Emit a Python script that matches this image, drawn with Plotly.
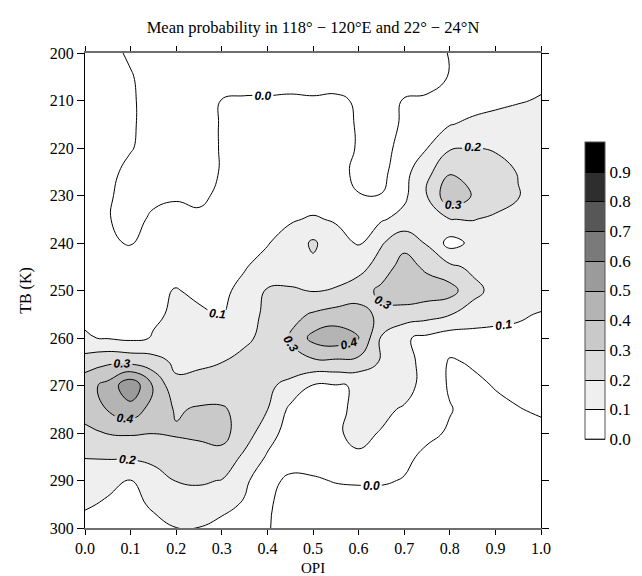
import plotly.graph_objects as go

# OPI (x) grid and TB (y) grid
OPI = [0.0, 0.05, 0.1, 0.15, 0.2, 0.25, 0.3, 0.35, 0.4, 0.45, 0.5,
       0.55, 0.6, 0.65, 0.7, 0.75, 0.8, 0.85, 0.9, 0.95, 1.0]
TB = [200, 205, 210, 215, 220, 225, 230, 235, 240, 245, 250,
      255, 260, 265, 270, 275, 280, 285, 290, 295, 300]

# mean probability, one row per TB value
P200 = [0.04, 0.02, -0.01, -0.03, -0.04, -0.04, -0.04, -0.04, -0.04, -0.04, -0.04, -0.04, -0.04, -0.04, -0.04, -0.04, 0.005, 0.03, 0.05, 0.06, 0.07]
P205 = [0.05, 0.04, 0.005, -0.03, -0.04, -0.04, -0.04, -0.04, -0.04, -0.04, -0.04, -0.04, -0.04, -0.04, -0.04, -0.04, 0.005, 0.04, 0.06, 0.075, 0.085]
P210 = [0.06, 0.05, 0.01, -0.03, -0.04, -0.03, 0.002, 0.01, 0.01, 0.015, 0.01, 0.015, -0.01, -0.03, 0.005, 0.015, 0.03, 0.06, 0.08, 0.095, 0.105]
P215 = [0.07, 0.05, 0.01, -0.03, -0.04, -0.03, 0.005, 0.02, 0.025, 0.03, 0.03, 0.02, -0.005, -0.03, 0.01, 0.06, 0.095, 0.12, 0.13, 0.13, 0.13]
P220 = [0.07, 0.06, 0.005, -0.03, -0.04, -0.03, 0.005, 0.025, 0.035, 0.04, 0.04, 0.025, -0.005, -0.03, 0.03, 0.098, 0.19, 0.205, 0.19, 0.15, 0.14]
P225 = [0.07, 0.02, -0.02, -0.04, -0.045, -0.03, 0.005, 0.03, 0.04, 0.045, 0.045, 0.03, -0.02, -0.03, 0.07, 0.17, 0.29, 0.28, 0.24, 0.195, 0.16]
P230 = [0.07, 0.01, -0.03, -0.02, -0.01, -0.01, 0.01, 0.03, 0.045, 0.05, 0.05, 0.045, 0.003, 0.003, 0.08, 0.205, 0.37, 0.295, 0.26, 0.205, 0.16]
P235 = [0.08, 0.005, -0.03, 0.015, 0.03, 0.01, 0.03, 0.05, 0.07, 0.09, 0.11, 0.09, 0.08, 0.09, 0.13, 0.17, 0.198, 0.205, 0.18, 0.16, 0.15]
P240 = [0.08, 0.01, -0.005, 0.03, 0.04, 0.04, 0.05, 0.07, 0.095, 0.14, 0.215, 0.14, 0.09, 0.19, 0.27, 0.19, 0.065, 0.12, 0.14, 0.15, 0.15]
P245 = [0.085, 0.05, 0.04, 0.05, 0.06, 0.06, 0.07, 0.095, 0.13, 0.15, 0.18, 0.17, 0.16, 0.25, 0.34, 0.28, 0.22, 0.18, 0.16, 0.15, 0.15]
P250 = [0.09, 0.07, 0.06, 0.08, 0.105, 0.08, 0.085, 0.12, 0.21, 0.21, 0.195, 0.205, 0.26, 0.32, 0.36, 0.35, 0.34, 0.23, 0.17, 0.15, 0.14]
P255 = [0.09, 0.08, 0.075, 0.09, 0.11, 0.115, 0.095, 0.16, 0.22, 0.27, 0.31, 0.34, 0.33, 0.28, 0.26, 0.24, 0.205, 0.16, 0.13, 0.11, 0.095]
P260 = [0.105, 0.095, 0.08, 0.105, 0.13, 0.15, 0.16, 0.18, 0.23, 0.31, 0.43, 0.46, 0.41, 0.19, 0.11, 0.08, 0.05, 0.06, 0.07, 0.08, 0.085]
P265 = [0.25, 0.28, 0.27, 0.24, 0.18, 0.18, 0.198, 0.23, 0.25, 0.27, 0.28, 0.28, 0.27, 0.19, 0.12, 0.08, -0.01, 0.01, 0.03, 0.045, 0.05]
P270 = [0.36, 0.43, 0.58, 0.39, 0.22, 0.24, 0.25, 0.24, 0.22, 0.17, 0.095, 0.095, 0.105, 0.14, 0.14, 0.06, -0.01, -0.02, 0.005, 0.02, 0.03]
P275 = [0.35, 0.405, 0.46, 0.36, 0.29, 0.31, 0.31, 0.27, 0.202, 0.08, 0.05, 0.08, 0.12, 0.12, 0.09, 0.05, 0.005, -0.03, -0.02, -0.003, 0.01]
P280 = [0.27, 0.305, 0.31, 0.302, 0.31, 0.32, 0.33, 0.25, 0.14, 0.06, 0.04, 0.09, 0.12, 0.095, 0.05, 0.02, -0.01, -0.04, -0.04, -0.03, -0.02]
P285 = [0.205, 0.21, 0.215, 0.23, 0.25, 0.26, 0.27, 0.18, 0.09, 0.05, 0.04, 0.04, 0.09, 0.04, 0.02, -0.02, -0.04, -0.05, -0.05, -0.04, -0.03]
P290 = [0.14, 0.12, 0.098, 0.15, 0.203, 0.21, 0.197, 0.12, 0.03, -0.02, -0.01, 0.005, 0.01, 0.01, -0.005, -0.04, -0.05, -0.06, -0.06, -0.05, -0.04]
P295 = [0.11, 0.09, 0.08, 0.11, 0.15, 0.16, 0.13, 0.09, 0.01, -0.03, -0.04, -0.04, -0.04, -0.04, -0.04, -0.05, -0.05, -0.06, -0.06, -0.05, -0.05]
P300 = [0.07, 0.06, 0.06, 0.08, 0.099, 0.098, 0.07, 0.04, 0.005, -0.03, -0.04, -0.04, -0.04, -0.04, -0.04, -0.04, -0.05, -0.05, -0.05, -0.05, -0.05]

Z = [P200, P205, P210, P215, P220, P225, P230, P235, P240, P245, P250,
     P255, P260, P265, P270, P275, P280, P285, P290, P295, P300]

LEVEL_TICKS = [0.0, 0.1, 0.2, 0.3, 0.4, 0.5, 0.6, 0.7, 0.8, 0.9]
LEVEL_TEXT = ["0.0", "0.1", "0.2", "0.3", "0.4", "0.5", "0.6", "0.7", "0.8", "0.9"]
TB_TICKS = [200, 210, 220, 230, 240, 250, 260, 270, 280, 290, 300]
OPI_TICKS = [0.0, 0.1, 0.2, 0.3, 0.4, 0.5, 0.6, 0.7, 0.8, 0.9, 1.0]

BAND_COLORS = ["#ffffff", "#efefef", "#dddddd", "#c9c9c9", "#b4b4b4",
               "#9b9b9b", "#7a7a7a", "#575757", "#2e2e2e", "#000000"]
colorscale = []
for i, c in enumerate(BAND_COLORS):
    colorscale.append([i / 10, c])
    colorscale.append([(i + 1) / 10, c])

SERIF = "Liberation Serif"

fig = go.Figure(go.Contour(
    x=OPI, y=TB, z=Z,
    zmin=0, zmax=1, zauto=False,
    autocontour=False,
    contours=dict(start=0, end=1, size=0.1, coloring="fill",
                  showlabels=True, labelformat=".1f",
                  labelfont=dict(family="Liberation Sans", size=12,
                                 color="black", weight="bold", style="italic")),
    line=dict(color="black", width=1, smoothing=1.3),
    colorscale=colorscale,
    colorbar=dict(
        x=1.075, xanchor="left", y=0.5, yanchor="middle",
        len=317, lenmode="pixels", thickness=20, thicknessmode="pixels",
        outlinewidth=1, outlinecolor="#555555",
        tickvals=LEVEL_TICKS, ticktext=LEVEL_TEXT, ticks="",
        tickfont=dict(family=SERIF, size=17, color="black"),
    ),
    hoverinfo="skip",
))

axis_common = dict(mirror="ticks", ticks="outside",
                   tickcolor="black", showgrid=False, zeroline=False,
                   tickfont=dict(family=SERIF, size=16, color="black"),
                   automargin=False)

fig.update_layout(
    width=642, height=576,
    margin=dict(l=77, r=86, t=45, b=56),
    paper_bgcolor="white", plot_bgcolor="white",
    title=dict(text="Mean probability in 118° − 120°E and 22° − 24°N",
               x=0.5, xref="paper", y=1 - 19 / 576, yref="container",
               xanchor="center", yanchor="middle",
               font=dict(family=SERIF, size=16.5, color="black")),
    xaxis=dict(range=[0, 1], tickvals=OPI_TICKS, tickformat=".1f",
               showline=True, linecolor="#6e6e6e", linewidth=1.5, ticklen=5,
               **axis_common),
    yaxis=dict(range=[300, 200], tickvals=TB_TICKS,
               showline=True, linecolor="black", linewidth=1, ticklen=7,
               title=dict(text="TB (K)", font=dict(family=SERIF, size=16, color="black"), standoff=14),
               **axis_common),
    annotations=[dict(text="OPI", xref="paper", yref="paper", x=0.5, y=-0.084,
                      xanchor="center", yanchor="middle", showarrow=False,
                      borderpad=0,
                      font=dict(family=SERIF, size=15, color="black"))],
)

fig.write_html("out.html")
